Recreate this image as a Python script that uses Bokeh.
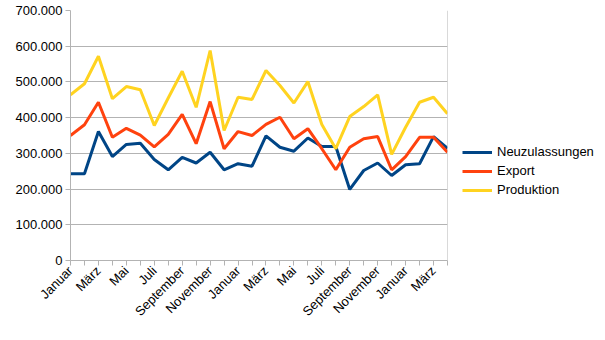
import math
from bokeh.plotting import figure
from bokeh.models import Range1d, FixedTicker, Legend, LegendItem, Span
from bokeh.embed import file_html
from bokeh.resources import INLINE

months = ["Januar", "Februar", "März", "April", "Mai", "Juni", "Juli", "August",
          "September", "Oktober", "November", "Dezember"]
categories = [months[i % 12] for i in range(28)]

neuzulassungen = [243000, 243000, 361000, 291000, 325000, 328000, 283000, 254000,
                  289000, 273000, 303000, 254000, 271000, 264000, 349000, 317000,
                  306000, 343000, 319000, 319000, 199000, 252000, 273000, 238000,
                  268000, 271000, 347000, 314000]
export = [350000, 380000, 443000, 345000, 370000, 351000, 318000, 353000,
          409000, 327000, 445000, 313000, 361000, 350000, 381000, 401000,
          341000, 369000, 313000, 254000, 317000, 341000, 347000, 254000,
          291000, 345000, 345000, 303000]
produktion = [464000, 495000, 572000, 453000, 487000, 478000, 378000, 455000,
              530000, 429000, 588000, 364000, 457000, 451000, 532000, 490000,
              441000, 501000, 381000, 313000, 403000, 431000, 464000, 297000,
              373000, 443000, 457000, 411000]
y_ticks = [0, 100000, 200000, 300000, 400000, 500000, 600000, 700000]
y_labels = ["0", "100.000", "200.000", "300.000", "400.000", "500.000", "600.000", "700.000"]

colors = ["#004586", "#ff420e", "#ffd320"]
names = ["Neuzulassungen", "Export", "Produktion"]
series = [neuzulassungen, export, produktion]

xs = list(range(len(categories)))

p = figure(frame_width=377, frame_height=250, output_backend="svg", toolbar_location=None,
           x_range=Range1d(0, len(categories) - 1), y_range=Range1d(0, 700000),
           min_border_left=70, min_border_right=0, min_border_top=10,
           min_border_bottom=80)
p.outline_line_color = None
p.background_fill_color = "white"
p.border_fill_color = "white"

renderers = []
for vals, col in zip(series, colors):
    r = p.line(xs, vals, line_color=col, line_width=3)
    renderers.append(r)

FONT = "Liberation Sans"
GRID = "#b3b3b3"

p.xgrid.grid_line_color = None
p.ygrid.grid_line_color = GRID
p.ygrid.grid_line_width = 1

p.yaxis.ticker = FixedTicker(ticks=y_ticks)
p.yaxis.major_label_overrides = {t: l for t, l in zip(y_ticks, y_labels)}
p.xaxis.ticker = FixedTicker(ticks=xs)
p.xaxis.major_label_overrides = {i: (categories[i] if i % 2 == 0 else "") for i in xs}
p.xaxis.major_label_orientation = math.pi / 4

for ax in (p.xaxis, p.yaxis):
    ax.axis_line_color = GRID
    ax.major_tick_line_color = GRID
    ax.minor_tick_line_color = None
    ax.major_tick_in = 0
    ax.major_tick_out = 5
    ax.major_label_text_font = FONT
    ax.major_label_text_font_size = "13px"
    ax.major_label_text_color = "black"
    ax.major_label_standoff = 3

p.add_layout(Span(location=len(categories) - 1, dimension="height",
                  line_color=GRID, line_width=1))

legend = Legend(items=[LegendItem(label=n, renderers=[r]) for n, r in zip(names, renderers)],
                location=(15, 63), border_line_color=None, background_fill_alpha=0,
                label_text_font=FONT, label_text_font_size="13px",
                label_text_color="black", glyph_width=30, glyph_height=14,
                label_standoff=5, spacing=4, padding=0, margin=0,
                label_height=14)
p.add_layout(legend, "right")

open("out.html", "w").write(file_html(p, INLINE))
